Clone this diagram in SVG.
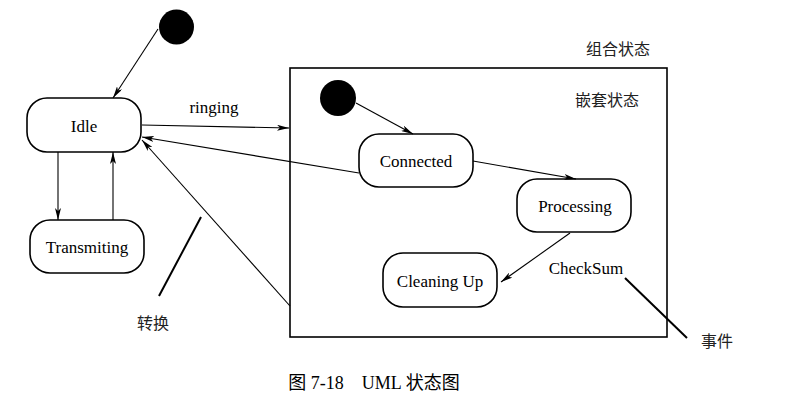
<svg xmlns="http://www.w3.org/2000/svg" width="812" height="411" viewBox="0 0 812 411">
<style>
.st{fill:#fff;stroke:#000;stroke-width:1.6}
.lb{font-family:"Liberation Serif","Times New Roman",serif;font-size:17px;fill:#000;text-anchor:middle}
.cj{font-family:"Noto Sans CJK SC","Noto Sans",sans-serif;font-size:16px;fill:#222;text-anchor:middle}
.cn{fill:none;stroke:#000;stroke-width:1.1}
.ln{fill:none;stroke:#000;stroke-width:2}
</style>
<defs>
<marker id="ah" viewBox="0 0 12 6" refX="12" refY="3" markerWidth="12" markerHeight="6" markerUnits="userSpaceOnUse" orient="auto">
<path d="M0,0 L12,3 L0,6 L3,3 Z" fill="#000"/>
</marker>
</defs>
<rect id="composite" x="290" y="68" width="377" height="269" fill="none" stroke="#000" stroke-width="1.6"/>
<text class="cj" x="618" y="55">组合状态</text>
<text class="cj" x="607" y="106">嵌套状态</text>
<g id="init1"><circle cx="176.5" cy="27" r="17.5" fill="#000"/></g>
<g id="idle"><rect class="st" x="27" y="98" width="114" height="54" rx="20"/><text class="lb" x="84" y="132">Idle</text></g>
<g id="transmiting"><rect class="st" x="30" y="220" width="114" height="53" rx="20"/><text class="lb" x="87" y="253">Transmiting</text></g>
<g id="init2"><circle cx="338" cy="98" r="18" fill="#000"/></g>
<g id="connected"><rect class="st" x="359" y="134" width="114" height="53" rx="20"/><text class="lb" x="416" y="167">Connected</text></g>
<g id="processing"><rect class="st" x="517" y="179" width="114" height="53" rx="20"/><text class="lb" x="575" y="212">Processing</text></g>
<g id="cleaning"><rect class="st" x="383" y="253" width="114" height="54" rx="20"/><text class="lb" x="440" y="287">Cleaning Up</text></g>
<g id="connectors">
<path class="cn" d="M158,29 L113,98" marker-end="url(#ah)"/>
<path class="cn" d="M58,152 L58,220" marker-end="url(#ah)"/>
<path class="cn" d="M113,220 L113,152" marker-end="url(#ah)"/>
<path class="cn" d="M142,125 L289,128" marker-end="url(#ah)"/>
<path class="cn" d="M359,173 L142,137" marker-end="url(#ah)"/>
<path class="cn" d="M290,306 L142,140" marker-end="url(#ah)"/>
<path class="cn" d="M356,103 L413,134" marker-end="url(#ah)"/>
<path class="cn" d="M473,161 L576,179" marker-end="url(#ah)"/>
<path class="cn" d="M570,233 L501,282" marker-end="url(#ah)"/>
</g>
<text class="lb" x="214" y="113">ringing</text>
<text class="lb" x="586" y="274">CheckSum</text>
<path class="ln" d="M201,217 L159,296"/>
<path class="ln" d="M625,278 L687,338"/>
<text class="cj" x="153" y="329">转换</text>
<text class="cj" x="717" y="347">事件</text>
<text x="374" y="389" style="font-family:'Liberation Serif','Noto Sans CJK SC',serif;font-size:18px;fill:#000;text-anchor:middle">图 7-18　UML 状态图</text>
</svg>
